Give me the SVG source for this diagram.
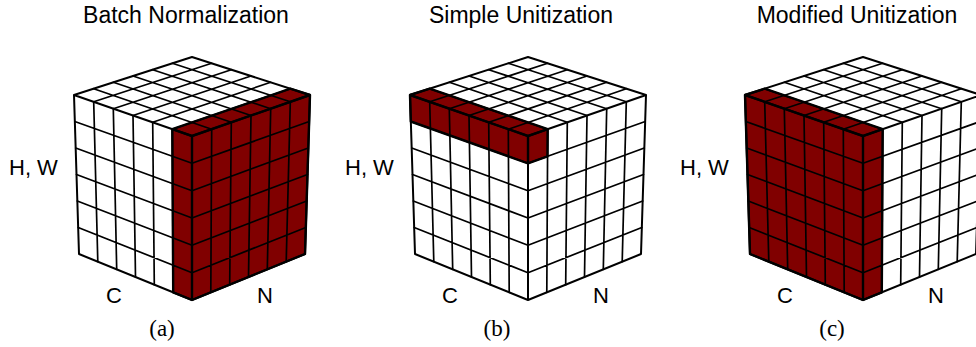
<svg xmlns="http://www.w3.org/2000/svg" xmlns:xlink="http://www.w3.org/1999/xlink" width="976" height="347" viewBox="0 0 976 347">
<style>
.t{font-family:"Liberation Sans",Arial,sans-serif;font-size:22px;fill:#000}
.h{font-size:23px}
.s{font-family:"Liberation Serif","Times New Roman",serif;font-size:23px;fill:#000}
.m{text-anchor:middle}
.face{fill:#fff;stroke:none}
.grid{fill:none;stroke:#000;stroke-width:1.7;stroke-linecap:round}
.edge{fill:none;stroke:#000;stroke-width:2;stroke-linejoin:round;stroke-linecap:round}
.slab{fill:#800000;stroke:none}
.slabo{fill:none;stroke:#000;stroke-width:2.4;stroke-linejoin:round}
</style>
<defs>
<g id="faces">
<polygon class="face" points="192,57 310,95 192,136 74,95"/>
<polygon class="face" points="74,95 192,136 192,300 79,254"/>
<polygon class="face" points="192,136 310,95 305,254 192,300"/>
</g>
<g id="grid">
<path class="grid" d="M93.7 101.8L97.8 261.7M113.3 108.7L116.7 269.3M133 115.5L135.5 277M152.7 122.3L154.3 284.7M172.3 129.2L173.2 292.3M74.8 121.5L192 163.3M75.7 148L192 190.7M76.5 174.5L192 218M77.3 201L192 245.3M78.2 227.5L192 272.7M211.7 129.2L210.8 292.3M231.3 122.3L229.7 284.7M251 115.5L248.5 277M270.7 108.7L267.3 269.3M290.3 101.8L286.2 261.7M192 163.3L309.2 121.5M192 190.7L308.3 148M192 218L307.5 174.5M192 245.3L306.7 201M192 272.7L305.8 227.5M93.7 101.8L211.7 63.3M113.3 108.7L231.3 69.7M133 115.5L251 76M152.7 122.3L270.7 82.3M172.3 129.2L290.3 88.7M93.7 88.7L211.7 129.2M113.3 82.3L231.3 122.3M133 76L251 115.5M152.7 69.7L270.7 108.7M172.3 63.3L290.3 101.8"/>
<path class="edge" d="M192 57L310 95L305 254L192 300L79 254L74 95ZM74 95L192 136L310 95M192 136L192 300"/>
</g>
</defs>
<g id="panel-a">
<text class="t h m" x="186" y="23">Batch Normalization</text>
<use href="#faces" xlink:href="#faces"/>
<polygon class="slab" points="172.3,129.2 290.3,88.7 310,95 305,254 192,300 173.2,292.3"/>
<use href="#grid" xlink:href="#grid"/>
<polygon class="slabo" points="172.3,129.2 290.3,88.7 310,95 305,254 192,300 173.2,292.3"/>
<path class="slabo" d="M172.3 129.2L192 136L310 95M192 136L192 300"/>
<text class="t" x="9" y="175">H, W</text>
<text class="t m" x="114" y="303">C</text>
<text class="t m" x="265" y="303">N</text>
<text class="s m" x="162" y="336">(a)</text>
</g>
<g id="panel-b" transform="translate(336,0)">
<text class="t h m" x="185" y="23">Simple Unitization</text>
<use href="#faces" xlink:href="#faces"/>
<polygon class="slab" points="93.7,88.7 211.7,129.2 211.5,156.4 192,163.3 74.8,121.5 74,95"/>
<use href="#grid" xlink:href="#grid"/>
<polygon class="slabo" points="93.7,88.7 211.7,129.2 211.5,156.4 192,163.3 74.8,121.5 74,95"/>
<path class="slabo" d="M74 95L192 136L211.7 129.2M192 136L192 163.3"/>
<text class="t" x="9" y="175">H, W</text>
<text class="t m" x="114" y="303">C</text>
<text class="t m" x="265" y="303">N</text>
<text class="s m" x="161" y="336">(b)</text>
</g>
<g id="panel-c" transform="translate(671,0)">
<text class="t h m" x="186" y="23">Modified Unitization</text>
<use href="#faces" xlink:href="#faces"/>
<polygon class="slab" points="93.7,88.7 211.7,129.2 210.8,292.3 192,300 79,254 74,95"/>
<use href="#grid" xlink:href="#grid"/>
<polygon class="slabo" points="93.7,88.7 211.7,129.2 210.8,292.3 192,300 79,254 74,95"/>
<path class="slabo" d="M74 95L192 136L211.7 129.2M192 136L192 300"/>
<text class="t" x="9" y="175">H, W</text>
<text class="t m" x="114" y="303">C</text>
<text class="t m" x="265" y="303">N</text>
<text class="s m" x="161" y="336">(c)</text>
</g>
</svg>
